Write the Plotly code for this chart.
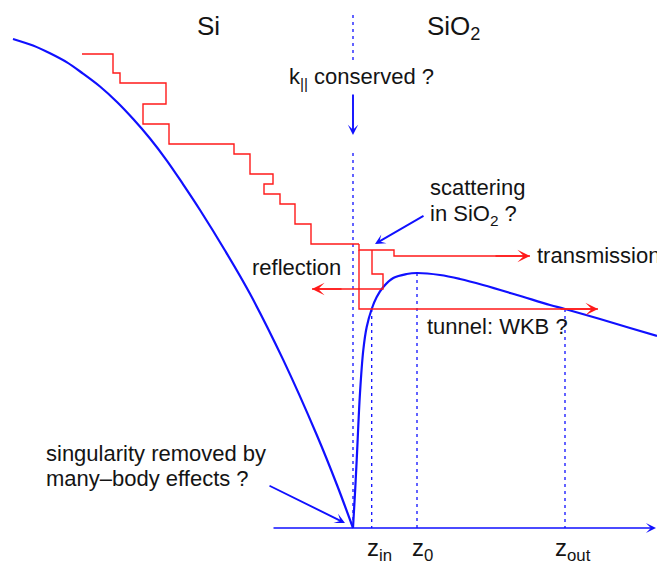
import plotly.graph_objects as go

# Coordinates: z = distance from the Si/SiO2 interface, E = energy above the axis line.
# Potential in silicon (left of the interface)
si_z = [-340, -320, -303, -286, -270, -253, -236, -220, -203, -186, -170, -153, -128, -103, -70, -36, -16, 0]
si_E = [489, 482.5, 474.7, 465.6, 454.4, 441.5, 426, 409.2, 389.5, 367.2, 343.8, 318, 277.5, 234.2, 168.6, 92.5, 43, 0]

# Image-force lowered barrier in the oxide
ox_z = [0, 2, 3.7, 7, 10.3, 13.7, 18.7, 23.7, 30.3, 40.3, 53.7, 64, 87, 107, 130, 164, 197, 212, 247, 277, 304]
ox_E = [0, 35, 68, 135, 178, 201, 219, 231, 241, 250, 254, 255, 253, 249, 243, 233, 223, 219, 209, 200, 192]

# Electron energy relaxing by scattering events in Si
stair_z = [-271, -240, -240, -233, -233, -187, -187, -210, -210, -184, -184, -119, -119, -103, -103,
           -80, -80, -89, -89, -73, -73, -58, -58, -42, -42, 6]
stair_E = [474, 474, 455, 455, 445, 445, 424, 424, 404, 404, 384, 384, 374, 374, 354,
           354, 344, 344, 334, 334, 324, 324, 304, 304, 284, 284]

# Branches at the interface
trans_z = [6, 6, 41, 41, 177]
trans_E = [284, 278, 278, 272, 272]
refl_z = [19, 19, 30, 30, -41]
refl_E = [278, 254, 254, 239, 239]
tunnel_z = [6, 6, 245]
tunnel_E = [278, 219, 219]

# Characteristic points
z_in, z_0, z_out = 18.7, 64, 212
E_tunnel, E_peak = 219, 255

BLUE = "#1010ff"
RED = "#ff1a1a"
INK = "#141414"
FONT = "Liberation Sans, Arial, Helvetica, sans-serif"
DASH = "3px,4px"

fig = go.Figure()


def line(xs, ys, color, width, dash="solid", shape="linear"):
    fig.add_trace(go.Scatter(x=xs, y=ys, mode="lines", hoverinfo="skip", showlegend=False,
                             line=dict(color=color, width=width, dash=dash, shape=shape)))


# interface (dashed, interrupted by the label)
line([0, 0], [513, 468], BLUE, 1.3, DASH)
line([0, 0], [375, 0], BLUE, 1.3, DASH)
# characteristic positions
line([z_in, z_in], [E_tunnel, 0], BLUE, 1.3, DASH)
line([z_0, z_0], [E_peak, 0], BLUE, 1.3, DASH)
line([z_out, z_out], [E_tunnel, 0], BLUE, 1.3, DASH)

# potentials
line(si_z, si_E, BLUE, 2.2, shape="spline")
line(ox_z, ox_E, BLUE, 2.2, shape="spline")

# electron path
line(stair_z, stair_E, RED, 1.4)
line(trans_z, trans_E, RED, 1.4)
line(refl_z, refl_E, RED, 1.4)
line(tunnel_z, tunnel_E, RED, 1.4)


def arrow(x0, y0, x1, y1, color, width, size):
    fig.add_annotation(x=x1, y=y1, ax=x0, ay=y0, xref="x", yref="y", axref="x", ayref="y",
                       text="", showarrow=True, arrowhead=3, arrowsize=size,
                       arrowwidth=width, arrowcolor=color, standoff=0, startstandoff=0)


# arrowheads on the branches
arrow(trans_z[-2] + 100, trans_E[-1], trans_z[-1], trans_E[-1], RED, 1.4, 1.5)
arrow(refl_z[-2] - 40, refl_E[-1], refl_z[-1], refl_E[-1], RED, 1.4, 1.5)
arrow(tunnel_z[-2] + 200, tunnel_E[-1], tunnel_z[-1], tunnel_E[-1], RED, 1.4, 1.5)

# axis
arrow(-81, 0, 303, 0, BLUE, 1.4, 1.2)

# pointers
arrow(0, 435, 0, 393, BLUE, 1.9, 0.9)
arrow(72, 313, 22, 284, BLUE, 1.9, 0.9)
arrow(-85, 43, -8, 5, BLUE, 1.9, 0.9)


def label(text, x, baseline, size, xanchor="left"):
    fig.add_annotation(x=x, y=baseline + 0.905 * size + 1, xref="x", yref="y", text=text,
                       showarrow=False, xanchor=xanchor, yanchor="top",
                       font=dict(family=FONT, size=size, color=INK))


label("Si", -145, 494, 26, "center")
label("SiO<sub>2</sub>", 72, 494, 26)
label("k<sub>||</sub> conserved ?", -66, 445, 22)
label("scattering", 75, 334, 22)
label("in SiO<sub>2</sub> ?", 75, 308, 22)
label("transmission", 182, 266, 22)
label("reflection", -103, 254, 22)
label("tunnel: WKB ?", 72, 195, 22)
label("singularity removed by", -309, 68, 22)
label("many\u2013body effects ?", -309, 43, 22)
label("z<sub>in</sub>", z_in - 7, -27, 24)
label("z<sub>0</sub>", z_0 - 7, -27, 24)
label("z<sub>out</sub>", z_out - 12, -27, 24)

fig.update_layout(
    width=657, height=562,
    margin=dict(l=0, r=0, t=0, b=0),
    paper_bgcolor="white", plot_bgcolor="white",
    xaxis=dict(range=[-353, 304], visible=False, fixedrange=True),
    yaxis=dict(range=[-34, 528], visible=False, fixedrange=True),
)

fig.write_html("out.html")
